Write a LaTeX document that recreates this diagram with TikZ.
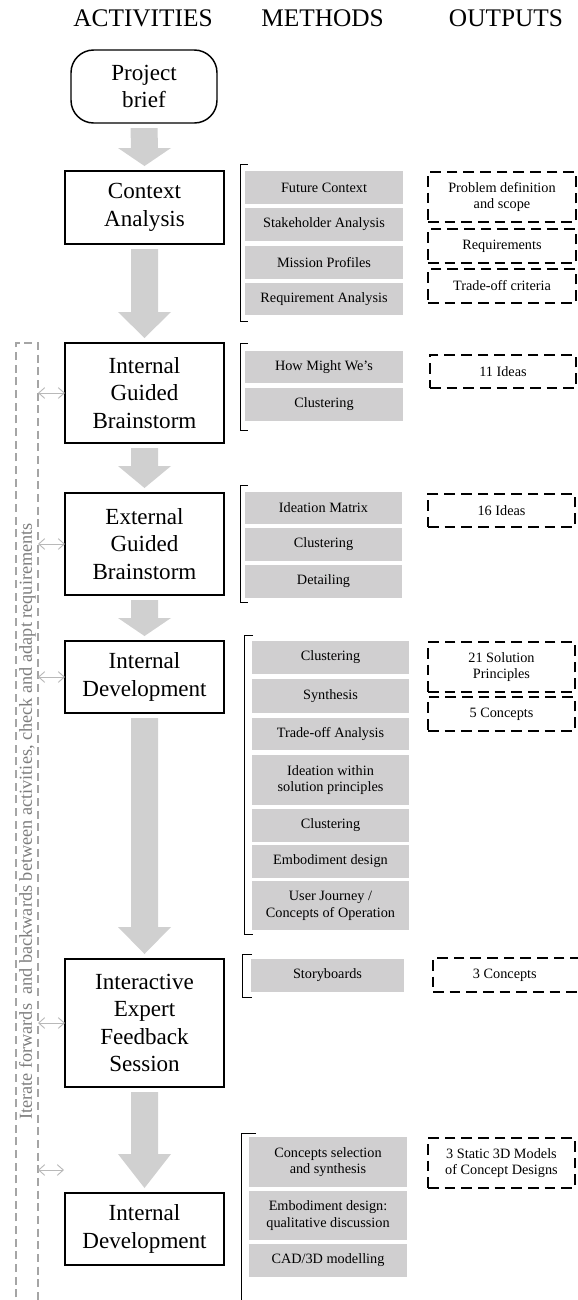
\documentclass[tikz,border=0pt]{standalone}
\usepackage{fontspec}
\setmainfont{Liberation Serif}
\usetikzlibrary{calc,arrows.meta}
\definecolor{mfill}{RGB}{208,207,208}
\definecolor{afill}{RGB}{208,208,208}
\definecolor{stripc}{RGB}{165,165,165}
\definecolor{txtgray}{RGB}{125,125,125}
\definecolor{dblc}{RGB}{185,185,185}
\newcommand\boxat[7]{\node[#1, minimum width={(#5-#3)*0.75pt}, minimum height={(#6-#4)*0.75pt}] (#2) at ({(#3+#5)/2},{(#4+#6)/2}) {#7};}
\newcommand\blockarrow[3]{\fill[afill] ($(#1.south)+(-13.5,5)$) -- ($(#1.south)+(13.5,5)$) -- ($(#2.north)+(13.5,{-5-#3})$) -- ($(#2.north)+(26.5,{-5-#3})$) -- ($(#2.north)+(0,-5)$) -- ($(#2.north)+(-26.5,{-5-#3})$) -- ($(#2.north)+(-13.5,{-5-#3})$) -- cycle;}
\newcommand\brk[4]{\draw[brkline] (#4,#2) -- (#1,#2) -- (#1,#3) -- (#4,#3);}
\tikzset{
  hdr/.style={font=\fontsize{19}{22}\selectfont, inner sep=0pt},
  actbox/.style={draw, line width=1.1pt, inner sep=0pt, outer sep=0pt, align=center, font=\fontsize{17.3}{20.5}\selectfont},
  pbbox/.style={actbox, rounded corners=17pt},
  methbox/.style={fill=mfill, inner sep=0pt, outer sep=0pt, align=center, font=\fontsize{10.7}{12.5}\selectfont},
  outbox/.style={draw, line width=1.1pt, dash pattern=on 8pt off 4.5pt, inner sep=0pt, outer sep=0pt, align=center, font=\fontsize{10.7}{12.5}\selectfont},
  brkline/.style={line width=0.7pt},
  stripline/.style={draw=stripc, line width=0.9pt, dash pattern=on 6pt off 3.5pt},
  dbl/.style={draw=dblc, line width=0.7pt, {Straight Barb[length=4.5pt,width=8pt]}-{Straight Barb[length=4.5pt,width=8pt]}},
}
\begin{document}
\begin{tikzpicture}[x=0.75pt,y=-0.75pt]
\useasboundingbox (0,0) rectangle (578,1300);
% headers
\node[hdr, anchor=base] (hA) at (143,26) {ACTIVITIES};
\node[hdr, anchor=base] (hM) at (322.5,26) {METHODS};
\node[hdr, anchor=base] (hO) at (506,26) {OUTPUTS};
% activities
\boxat{pbbox}{pb}{71}{50}{217}{123}{Project\\brief}
\boxat{actbox}{ca}{65}{171}{224}{244}{Context\\Analysis}
\boxat{actbox}{igb}{65}{343}{224}{443}{Internal\\Guided\\Brainstorm}
\boxat{actbox}{egb}{65}{493}{224}{595}{External\\Guided\\Brainstorm}
\boxat{actbox}{ida}{65}{641}{224}{713}{Internal\\Development}
\boxat{actbox}{iefs}{65}{959}{224}{1087}{Interactive\\Expert\\Feedback\\Session}
\boxat{actbox}{idb}{65}{1193}{224}{1265}{Internal\\Development}
% block arrows
\blockarrow{pb}{ca}{18}
\blockarrow{ca}{igb}{26}
\blockarrow{igb}{egb}{22}
\blockarrow{egb}{ida}{18}
\blockarrow{ida}{iefs}{27}
\blockarrow{iefs}{idb}{34}
% method brackets
\brk{240}{164}{321}{248}
\brk{240}{343}{430}{248}
\brk{240}{485}{602}{248}
\brk{244}{635}{934}{253}
\brk{242}{954}{997}{252}
\brk{241}{1133}{1310}{256}
% methods
\boxat{methbox}{m11}{245}{171}{403}{204}{Future Context}
\boxat{methbox}{m12}{245}{208}{403}{241}{Stakeholder Analysis}
\boxat{methbox}{m13}{245}{246}{403}{279}{Mission Profiles}
\boxat{methbox}{m14}{245}{283}{403}{315}{Requirement Analysis}
\boxat{methbox}{m21}{245}{351}{403}{383}{How Might We’s}
\boxat{methbox}{m22}{245}{388}{403}{421}{Clustering}
\boxat{methbox}{m31}{245}{492}{402}{524}{Ideation Matrix}
\boxat{methbox}{m32}{245}{528}{402}{561}{Clustering}
\boxat{methbox}{m33}{245}{565}{402}{598}{Detailing}
\boxat{methbox}{m41}{252}{641}{409}{674}{Clustering}
\boxat{methbox}{m42}{252}{679}{409}{713}{Synthesis}
\boxat{methbox}{m43}{252}{718}{409}{750}{Trade-off Analysis}
\boxat{methbox}{m44}{252}{755}{409}{805}{Ideation within\\solution principles}
\boxat{methbox}{m45}{252}{809}{409}{842}{Clustering}
\boxat{methbox}{m46}{252}{845}{409}{878}{Embodiment design}
\boxat{methbox}{m47}{252}{881}{409}{930}{User Journey /\\Concepts of Operation}
\boxat{methbox}{m51}{251}{959}{404}{992}{Storyboards}
\boxat{methbox}{m61}{249}{1137}{407}{1187}{Concepts selection\\and synthesis}
\boxat{methbox}{m62}{249}{1191}{407}{1240}{Embodiment design:\\qualitative discussion}
\boxat{methbox}{m63}{249}{1244}{407}{1277}{CAD/3D modelling}
% outputs
\boxat{outbox}{o11}{428}{172}{576}{222}{Problem definition\\and scope}
\boxat{outbox}{o12}{428}{229}{576}{263}{Requirements}
\boxat{outbox}{o13}{428}{269}{576}{303}{Trade-off criteria}
\boxat{outbox}{o21}{430}{355}{576}{388}{11 Ideas}
\boxat{outbox}{o31}{428}{494}{575}{527}{16 Ideas}
\boxat{outbox}{o41}{428}{642}{575}{692}{21 Solution\\Principles}
\boxat{outbox}{o42}{428}{697}{575}{731}{5 Concepts}
\boxat{outbox}{o51}{433}{958}{590}{992}{\hspace*{-10pt}3 Concepts}
\boxat{outbox}{o61}{428}{1138}{575}{1188}{3 Static 3D Models\\of Concept Designs}
% iteration strip
\draw[stripline] (16,1310) -- (16,343) -- (38,343) -- (38,1310);
\node[rotate=90, text=txtgray, font=\fontsize{13.7}{15}\selectfont, inner sep=0pt] (iter) at (27.5,821.5) {Iterate forwards\ \ and backwards between activities, check and adapt requirements};
\coordinate (sx) at (38,0);
\draw[dbl] (sx |- igb.west) -- (igb.west);
\draw[dbl] (sx |- egb.west) -- (egb.west);
\draw[dbl] (sx |- ida.west) -- (ida.west);
\draw[dbl] (sx |- iefs.west) -- (iefs.west);
\coordinate (l5a) at (38,1170);
\coordinate (l5b) at (64,1170);
\draw[dbl] (l5a) -- (l5b);
\end{tikzpicture}
\end{document}
